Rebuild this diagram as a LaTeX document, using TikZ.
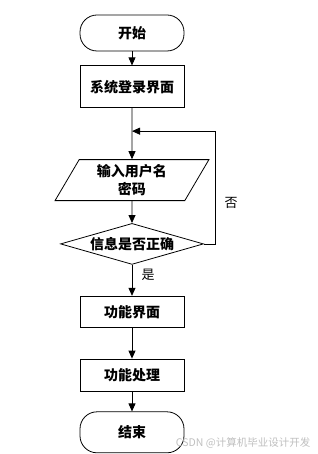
\documentclass[tikz,border=0pt]{standalone}
\usepackage{fontspec}
\setmainfont{Noto Sans CJK SC}
\usetikzlibrary{positioning, arrows.meta, calc, shapes.geometric}

\begin{document}
\begin{tikzpicture}[>={Triangle[length=8pt,width=7pt]}, x=1pt, y=1pt, line width=0.8pt,
  font=\fontsize{14pt}{18pt}\selectfont\bfseries,
  term/.style={draw, rectangle, rounded corners=17pt, minimum width=104pt, minimum height=36pt, inner sep=0pt},
  box/.style={draw, rectangle, minimum width=104pt, minimum height=31pt, inner sep=0pt},
  io/.style={draw, trapezium, trapezium left angle=63, trapezium right angle=117, trapezium stretches=true,
    minimum width=154pt, minimum height=41pt, inner sep=0pt, align=center},
  test/.style={draw, diamond, aspect=3.5, minimum width=143pt, minimum height=41pt, inner sep=0pt},
  tag/.style={font=\fontsize{13pt}{15pt}\selectfont}]
  \useasboundingbox (0,0) rectangle (317,-454);
  \node[term] (start) at (132,-33) {开始};
  \node[box, minimum height=42pt, below=14pt of start] (login) {系统登录界面};
  \node[io, below=51pt of login] (input) {输入用户名\\密码};
  \node[test, below=22pt of input] (check) {信息是否正确};
  \node[box, below=31pt of check] (func) {功能界面};
  \node[box, minimum height=32pt, below=31pt of func] (proc) {功能处理};
  \node[term, minimum height=41pt, below=20pt of proc] (stop) {结束};
  \coordinate (back) at ($(login.south)!0.45!(input.north)$);
  \draw[->] (start) -- (login);
  \draw[->] (login) -- (input);
  \draw[->] (input) -- (check);
  \draw[->] (check) -- node[tag, pos=0.32, right=6pt] {是} (func);
  \draw[->] (func) -- (proc);
  \draw[->] (proc) -- (stop);
  \draw[->] (check.east) -- ++(11,0) |- node[tag, pos=0.18, right=6pt] {否} (back);
  % watermark
  \node[font=\fontsize{10.5pt}{12pt}\selectfont, text=gray!50, anchor=east] (mark) at (314,-443) {CSDN @计算机毕业设计开发};
\end{tikzpicture}
\end{document}
